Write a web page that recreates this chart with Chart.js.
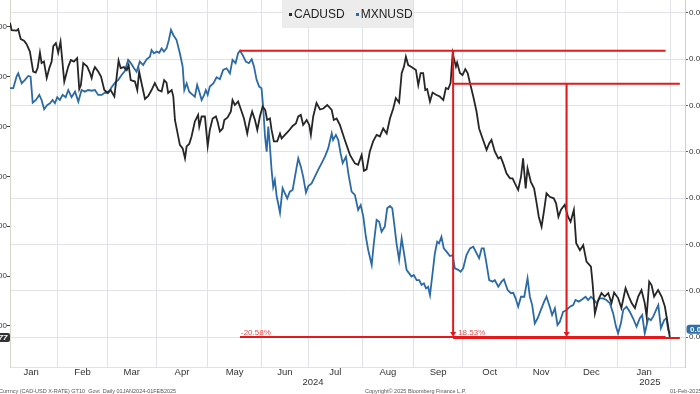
<!DOCTYPE html>
<html>
<head>
<meta charset="utf-8">
<script src="https://cdn.jsdelivr.net/npm/chart.js@4.4.1/dist/chart.umd.min.js"></script>
<style>
  html, body { margin: 0; padding: 0; }
  body { width: 700px; height: 394px; overflow: hidden; position: relative; background: #fff;
         font-family: "Liberation Sans", Arial, sans-serif; }
  #wrap { position: absolute; left: -40px; top: 0; width: 780px; height: 400px; }
  #legend { position: absolute; left: 282px; top: 0; width: 131px; height: 28px; background: #ececec;
            display: flex; align-items: center; padding-left: 7px; box-sizing: border-box; gap: 11px;
            font-size: 12px; color: #222; }
  #legend .sw { display: inline-block; width: 3px; height: 3px; margin-right: 2px; vertical-align: middle; }
  .foot { position: absolute; top: 388px; font-size: 5.5px; color: #555; white-space: nowrap; }
</style>
</head>
<body>
<div id="wrap"><canvas id="chart" width="780" height="400"></canvas></div>
<div id="legend"></div>
<div class="foot" style="left:-1px">Currncy (CAD-USD X-RATE) GT10&nbsp; Govt&nbsp; Daily 01JAN2024-01FEB2025</div>
<div class="foot" style="left:365px">Copyright© 2025 Bloomberg Finance L.P.</div>
<div class="foot" style="left:670px">01-Feb-2025</div>
<script>
// x values are weekday counts from 1 Jan 2024
const monthStarts = [0, 23, 44, 65, 87, 110, 130, 153, 175, 196, 219, 240, 262, 285];
const monthNames = ['Jan', 'Feb', 'Mar', 'Apr', 'May', 'Jun', 'Jul', 'Aug', 'Sep', 'Oct', 'Nov', 'Dec', 'Jan'];
const yearLabels = ['2024', '2025'];
const yearDays = [132, 276];

const cadTicks = [0.69, 0.70, 0.71, 0.72, 0.73, 0.74, 0.75];
const mxnTicks = [0.048, 0.050, 0.052, 0.054, 0.056, 0.058, 0.060, 0.062];

const cadDays = [2.5,3.2,5.3,6.0,7.1,8.5,9.6,11.0,12.4,13.5,14.3,15.3,16.0,17.0,18.2,19.3,20.3,21.0,22.1,23.1,
  24.1,25.7,27.4,28.5,29.8,31.2,32.1,32.8,33.8,35.5,36.7,37.4,38.1,38.8,40.2,41.4,42.8,44.1,45.5,47.1,
  48.1,48.9,49.8,51.2,52.4,53.2,54.1,55.9,56.9,57.7,58.8,60.2,61.6,63.0,64.4,65.9,67.3,68.4,69.4,70.1,
  71.6,72.3,73.0,75.1,76.3,77.3,78.0,79.1,80.1,81.5,82.9,83.4,84.4,85.8,87.0,87.9,89.1,90.5,91.2,92.2,
  93.4,94.1,95.5,96.9,97.6,98.6,100.0,101.2,102.5,103.9,105.0,106.0,107.2,108.2,109.3,110.5,111.6,112.4,113.6,114.3,
  115.3,116.7,117.9,118.6,120.0,121.4,123.3,124.7,125.7,126.8,127.8,129.3,130.4,131.1,132.1,133.5,135.0,136.4,138.1,140.0,
  140.9,142.1,143.5,144.9,145.6,147.8,149.9,151.3,152.8,153.8,154.9,156.3,157.7,159.2,160.6,162.0,163.5,164.9,166.3,167.4,
  168.8,169.9,170.9,171.7,172.7,174.1,176.0,177.0,178.0,179.1,180.0,180.8,182.0,183.1,184.8,186.2,187.7,188.8,189.8,190.8,
  191.7,192.2,193.1,193.6,194.8,195.9,197.1,198.1,199.1,200.5,201.9,203.0,204.7,206.2,207.3,208.3,209.7,211.2,212.2,213.3,
  214.7,216.2,217.3,218.3,219.7,220.9,221.8,222.9,223.7,225.1,226.5,227.6,228.5,229.7,230.8,231.8,233.2,234.9,235.9,236.9,
  238.0,239.6,241.0,242.1,243.5,244.5,246.1,247.5,248.9,250.8,251.5,252.5,253.9,255.3,256.7,258.2,259.6,260.7,262.4,263.8,
  265.6,267.0,268.2,269.6,271.0,272.4,273.8,274.6,275.7,276.7,277.8,279.5,281.0,282.4,283.8,284.5];
const cadValues = [0.7508,0.7493,0.7492,0.7495,0.7475,0.7472,0.7465,0.7450,0.7410,0.7408,
  0.7417,0.7448,0.7427,0.7430,0.7397,0.7417,0.7430,0.7461,0.7467,0.7448,
  0.7470,0.7390,0.7420,0.7433,0.7430,0.7437,0.7375,0.7383,0.7427,0.7420,
  0.7407,0.7397,0.7411,0.7419,0.7410,0.7400,0.7373,0.7368,0.7373,0.7360,
  0.7400,0.7432,0.7417,0.7419,0.7413,0.7423,0.7393,0.7390,0.7373,0.7410,
  0.7385,0.7355,0.7361,0.7373,0.7387,0.7373,0.7370,0.7393,0.7388,0.7367,
  0.7373,0.7360,0.7313,0.7263,0.7256,0.7236,0.7260,0.7265,0.7280,0.7310,
  0.7323,0.7300,0.7320,0.7320,0.7261,0.7293,0.7316,0.7320,0.7310,0.7290,
  0.7296,0.7313,0.7318,0.7330,0.7353,0.7343,0.7350,0.7334,0.7316,0.7286,
  0.7313,0.7330,0.7313,0.7293,0.7320,0.7340,0.7333,0.7313,0.7316,0.7293,
  0.7270,0.7270,0.7286,0.7276,0.7283,0.7290,0.7301,0.7306,0.7320,0.7323,
  0.7303,0.7313,0.7303,0.7283,0.7320,0.7347,0.7334,0.7336,0.7343,0.7333,
  0.7313,0.7316,0.7303,0.7283,0.7273,0.7243,0.7226,0.7223,0.7243,0.7211,
  0.7214,0.7250,0.7270,0.7283,0.7280,0.7296,0.7286,0.7316,0.7336,0.7357,
  0.7348,0.7407,0.7420,0.7440,0.7423,0.7419,0.7413,0.7383,0.7407,0.7407,
  0.7373,0.7375,0.7350,0.7368,0.7363,0.7360,0.7353,0.7377,0.7375,0.7387,
  0.7447,0.7437,0.7420,0.7428,0.7407,0.7403,0.7415,0.7407,0.7387,0.7360,
  0.7330,0.7296,0.7273,0.7253,0.7266,0.7273,0.7250,0.7236,0.7239,0.7226,
  0.7206,0.7196,0.7196,0.7186,0.7173,0.7199,0.7236,0.7176,0.7216,0.7189,
  0.7176,0.7146,0.7119,0.7099,0.7133,0.7166,0.7159,0.7156,0.7146,0.7119,
  0.7133,0.7143,0.7119,0.7109,0.7133,0.7066,0.7052,0.7062,0.7029,0.7019,
  0.6986,0.6925,0.6952,0.6966,0.6959,0.6966,0.6946,0.6967,0.6956,0.6936,
  0.6976,0.6959,0.6946,0.6936,0.6959,0.6972,0.6946,0.6919,0.6989,0.6982,
  0.6959,0.6972,0.6959,0.6939,0.6899,0.6877];

const mxnDays = [2.5,3.9,5.3,6.0,7.5,8.9,10.3,11.3,12.2,13.6,15.0,16.0,17.1,18.4,19.6,20.7,21.7,22.7,23.8,25.0,
  26.3,27.4,28.8,30.3,31.7,33.1,34.5,35.9,37.4,38.8,40.2,41.7,43.1,44.5,45.9,47.4,48.8,50.2,51.6,53.0,
  54.2,55.5,56.6,58.0,59.4,60.9,62.3,63.0,64.0,65.2,66.3,67.3,68.3,69.4,70.4,71.3,72.3,73.7,75.1,76.3,
  77.0,78.0,79.1,80.6,81.5,82.5,83.4,84.4,85.5,86.2,87.0,87.9,89.4,90.8,92.2,93.6,95.1,96.5,97.6,98.9,
  100.0,100.8,101.9,103.3,104.6,105.8,106.8,107.9,109.0,110.0,110.7,111.5,112.2,112.9,113.6,114.3,115.0,115.7,116.5,117.1,
  117.9,119.0,120.0,121.0,122.1,123.3,124.3,125.7,126.8,127.8,129.0,130.0,131.4,132.8,134.2,135.7,137.1,138.5,140.0,140.6,
  141.8,142.8,143.8,144.7,146.1,147.1,148.5,149.9,151.3,152.4,153.5,154.6,155.6,157.1,158.0,159.2,160.3,161.3,162.7,163.7,
  164.9,165.9,166.7,167.7,168.8,169.9,170.9,172.0,173.1,174.1,175.1,176.3,177.4,178.4,179.4,180.3,181.2,182.0,183.1,184.1,
  185.1,185.9,186.9,187.9,189.1,190.5,191.7,192.6,194.1,195.1,196.2,197.6,199.1,200.5,201.9,203.0,204.1,205.0,205.9,207.3,
  208.8,209.7,211.2,212.6,213.6,215.2,216.6,217.6,218.6,219.7,220.9,222.3,223.7,224.7,225.7,226.8,228.0,229.4,230.8,231.8,
  233.2,234.2,235.4,236.5,237.5,238.9,240.4,241.8,243.2,244.2,245.6,247.1,248.5,249.6,250.8,252.2,253.2,254.6,256.0,257.4,
  258.9,260.3,261.5,262.4,263.6,264.6,266.0,267.4,268.8,270.3,271.7,272.7,273.8,275.3,276.4,277.4,278.8,279.6,280.7,282.1,
  283.1,283.8,284.5];
const mxnValues = [0.05875,0.05875,0.05925,0.05939,0.05896,0.05911,0.05928,0.05925,0.05812,0.05824,
  0.05846,0.05824,0.05784,0.05802,0.05810,0.05824,0.05810,0.05836,0.05824,0.05846,
  0.05836,0.05867,0.05836,0.05860,0.05817,0.05867,0.05860,0.05867,0.05864,0.05867,
  0.05846,0.05846,0.05856,0.05853,0.05879,0.05899,0.05911,0.05932,0.05949,0.05997,
  0.05983,0.05961,0.05946,0.05990,0.05975,0.06000,0.06011,0.06040,0.06026,0.06033,
  0.06028,0.06047,0.06033,0.06047,0.06083,0.06127,0.06105,0.06083,0.06026,0.05968,
  0.05867,0.05896,0.05860,0.05846,0.05838,0.05889,0.05860,0.05824,0.05846,0.05867,
  0.05846,0.05882,0.05896,0.05922,0.05914,0.05954,0.05961,0.05939,0.05997,0.05983,
  0.06026,0.06037,0.06019,0.05990,0.05983,0.06000,0.05968,0.05911,0.05882,0.05875,
  0.05795,0.05665,0.05601,0.05709,0.05622,0.05522,0.05449,0.05478,0.05406,0.05378,
  0.05337,0.05443,0.05421,0.05399,0.05428,0.05435,0.05493,0.05572,0.05536,0.05493,
  0.05424,0.05452,0.05464,0.05493,0.05522,0.05551,0.05579,0.05615,0.05680,0.05651,
  0.05673,0.05651,0.05594,0.05551,0.05579,0.05507,0.05428,0.05414,0.05349,0.05370,
  0.05320,0.05233,0.05176,0.05111,0.05205,0.05306,0.05298,0.05255,0.05277,0.05356,
  0.05366,0.05356,0.05291,0.05205,0.05133,0.05226,0.05162,0.05090,0.05075,0.05061,
  0.05068,0.05046,0.05046,0.05025,0.05032,0.05010,0.05017,0.04981,0.05075,0.05162,
  0.05212,0.05205,0.05233,0.05183,0.05169,0.05150,0.05154,0.05097,0.05090,0.05082,
  0.05097,0.05154,0.05183,0.05190,0.05162,0.05140,0.05183,0.05183,0.05133,0.05046,
  0.05039,0.05046,0.05017,0.05039,0.05049,0.05003,0.04989,0.04991,0.04967,0.04931,
  0.04974,0.04974,0.05054,0.04974,0.04938,0.04859,0.04881,0.04917,0.04953,0.04974,
  0.04931,0.04895,0.04924,0.04852,0.04866,0.04909,0.04917,0.04931,0.04938,0.04960,
  0.04953,0.04963,0.04974,0.04960,0.04974,0.04960,0.04946,0.04967,0.04967,0.04960,
  0.04946,0.04902,0.04845,0.04816,0.04859,0.04917,0.04931,0.04909,0.04881,0.04845,
  0.04881,0.04895,0.04816,0.04881,0.04873,0.04888,0.04920,0.04938,0.04838,0.04873,
  0.04881,0.04830,0.04816];

// red drawdown marks (right-axis levels, weekday positions)
const redTop = 0.06037;
const redMid = 0.05894;
const redBase = 0.0480;
const redStartDay = 100.8;
const peakDay = 191.9;
const arrowDay = 240.4;
const topEndDay = 282.7;
const midEndDay = 288.8;
const dropMxn = '-20.58%';
const dropCad = '18.53%';

const RED = '#e3191c';
const FONT = '"Liberation Sans", Arial, sans-serif';

const monthMids = monthStarts.slice(0, -1).map((d, i) => (d + monthStarts[i + 1]) / 2);
const labelTicks = monthMids.map((d, i) => ({ value: d, label: monthNames[i] }))
  .concat(yearDays.map((d, i) => ({ value: d, label: ['', yearLabels[i]] })))
  .sort((a, b) => a.value - b.value);

// vertical axes should not push the plot down for half a label
function noVerticalPadding(s) {
  s.paddingTop = 0;
  s.paddingBottom = 0;
}

const markPlugin = {
  id: 'marks',
  afterDatasetsDraw(chart) {
    const { ctx } = chart;
    const x = chart.scales.x, y = chart.scales.y1;
    const xs = x.getPixelForValue(redStartDay), xp = x.getPixelForValue(peakDay), xa = x.getPixelForValue(arrowDay);
    const xe1 = x.getPixelForValue(topEndDay), xe2 = x.getPixelForValue(midEndDay);
    const yt = y.getPixelForValue(redTop), ym = y.getPixelForValue(redMid), yb = y.getPixelForValue(redBase);
    const seg = (x1, y1, x2, y2) => { ctx.beginPath(); ctx.moveTo(x1, y1); ctx.lineTo(x2, y2); ctx.stroke(); };

    ctx.save();
    ctx.strokeStyle = RED;
    ctx.lineWidth = 2;
    seg(xs, yt, xe1, yt);
    seg(xp, ym, xe2, ym);
    seg(xs, yb, xe1, yb);
    seg(xp, yb + 1, xe2, yb + 1);
    seg(xp, yt, xp, yb - 4);
    seg(xa, ym, xa, yb - 4);
    ctx.fillStyle = RED;
    [xp, xa].forEach(px => {
      ctx.beginPath();
      ctx.moveTo(px - 3, yb - 5);
      ctx.lineTo(px + 3, yb - 5);
      ctx.lineTo(px, yb);
      ctx.closePath();
      ctx.fill();
    });
    ctx.font = '8px ' + FONT;
    ctx.fillStyle = '#e2504e';
    ctx.textBaseline = 'alphabetic';
    ctx.fillText(dropMxn, xs + 1, yb - 2);
    ctx.fillText(dropCad, xp + 5, yb - 2);
    ctx.restore();
  },
  afterDraw(chart) {
    const { ctx, chartArea } = chart;
    ctx.save();
    ctx.textBaseline = 'middle';

    // last value tags
    ctx.font = 'bold italic 8px ' + FONT;
    const cadTxt = cadValues[cadValues.length - 1].toFixed(4);
    const cy = chart.scales.y.getPixelForValue(cadValues[cadValues.length - 1]);
    let w = ctx.measureText(cadTxt).width;
    ctx.fillStyle = '#333';
    ctx.beginPath();
    ctx.roundRect(chartArea.left - w - 6, cy - 4.5, w + 6, 9, 2);
    ctx.fill();
    ctx.fillStyle = '#fff';
    ctx.textAlign = 'right';
    ctx.fillText(cadTxt, chartArea.left - 2.5, cy + 0.5);

    ctx.font = 'bold 8px ' + FONT;
    const mxnTxt = mxnValues[mxnValues.length - 1].toFixed(4);
    const my = chart.scales.y1.getPixelForValue(mxnValues[mxnValues.length - 1]) - 4;
    w = ctx.measureText(mxnTxt).width;
    ctx.fillStyle = '#2f6ea8';
    ctx.beginPath();
    ctx.roundRect(chartArea.right + 1.5, my - 4.5, w + 7, 9, 3);
    ctx.fill();
    ctx.fillStyle = '#fff';
    ctx.textAlign = 'left';
    ctx.fillText(mxnTxt, chartArea.right + 5, my + 0.5);
    ctx.restore();
  }
};

const chart = new Chart(document.getElementById('chart'), {
  type: 'line',
  data: {
    datasets: [
      {
        label: 'CADUSD',
        data: cadDays.map((d, i) => ({ x: d, y: cadValues[i] })),
        yAxisID: 'y',
        borderColor: '#262626',
        borderWidth: 1.8,
        pointRadius: 0,
        tension: 0
      },
      {
        label: 'MXNUSD',
        data: mxnDays.map((d, i) => ({ x: d, y: mxnValues[i] })),
        yAxisID: 'y1',
        borderColor: '#2c6aa5',
        borderWidth: 1.8,
        pointRadius: 0,
        tension: 0
      }
    ]
  },
  options: {
    responsive: false,
    devicePixelRatio: 1,
    animation: false,
    layout: { padding: 0 },
    plugins: { legend: { display: false }, tooltip: { enabled: false } },
    scales: {
      x: {
        type: 'linear',
        position: 'bottom',
        bounds: 'data',
        min: 2.5,
        max: 291,
        weight: 0,
        afterBuildTicks: s => { s.ticks = monthStarts.filter(d => d > s.min && d < s.max).map(v => ({ value: v })); },
        afterFit: s => { s.height = 0; },
        ticks: { display: false },
        grid: { color: '#dfe2e6', drawTicks: false },
        border: { color: '#e3e9bd', width: 1 }
      },
      xLabels: {
        type: 'linear',
        position: 'bottom',
        bounds: 'data',
        min: 2.5,
        max: 291,
        weight: 1,
        afterBuildTicks: s => { s.ticks = labelTicks.map(t => ({ value: t.value })); },
        afterFit: s => { s.height = 33; },
        grid: { display: false, drawTicks: false },
        border: { display: false },
        ticks: {
          autoSkip: false,
          maxRotation: 0,
          padding: 0,
          color: '#333',
          font: { family: FONT, size: 9.5, lineHeight: 1.05 },
          callback: (v, i) => labelTicks[i].label
        }
      },
      y: {
        type: 'linear',
        position: 'left',
        bounds: 'data',
        min: 0.68178,
        max: 0.75535,
        afterBuildTicks: s => { s.ticks = cadTicks.map(v => ({ value: v })); },
        afterFit: s => { s.width = 50; noVerticalPadding(s); },
        grid: { drawOnChartArea: false, tickLength: 3, tickColor: '#444' },
        border: { color: '#d3dac8' },
        ticks: {
          padding: 0,
          color: '#333',
          font: { family: FONT, size: 8 },
          callback: v => v.toFixed(4)
        }
      },
      y1: {
        type: 'linear',
        position: 'right',
        bounds: 'data',
        min: 0.046704,
        max: 0.06256,
        afterBuildTicks: s => { s.ticks = mxnTicks.map(v => ({ value: v })); },
        afterFit: s => { s.width = 55; noVerticalPadding(s); },
        grid: { color: '#dfe2e6', tickLength: 3, tickColor: '#666' },
        border: { color: '#c8d0da' },
        ticks: {
          padding: 1,
          color: '#333',
          font: { family: FONT, size: 8 },
          callback: v => v.toFixed(4)
        }
      }
    }
  },
  plugins: [markPlugin]
});

// legend box built from the datasets
document.getElementById('legend').innerHTML = chart.data.datasets.map(ds =>
  `<span><span class="sw" style="background:${ds.borderColor}"></span>${ds.label}</span>`).join('');
</script>
</body>
</html>
